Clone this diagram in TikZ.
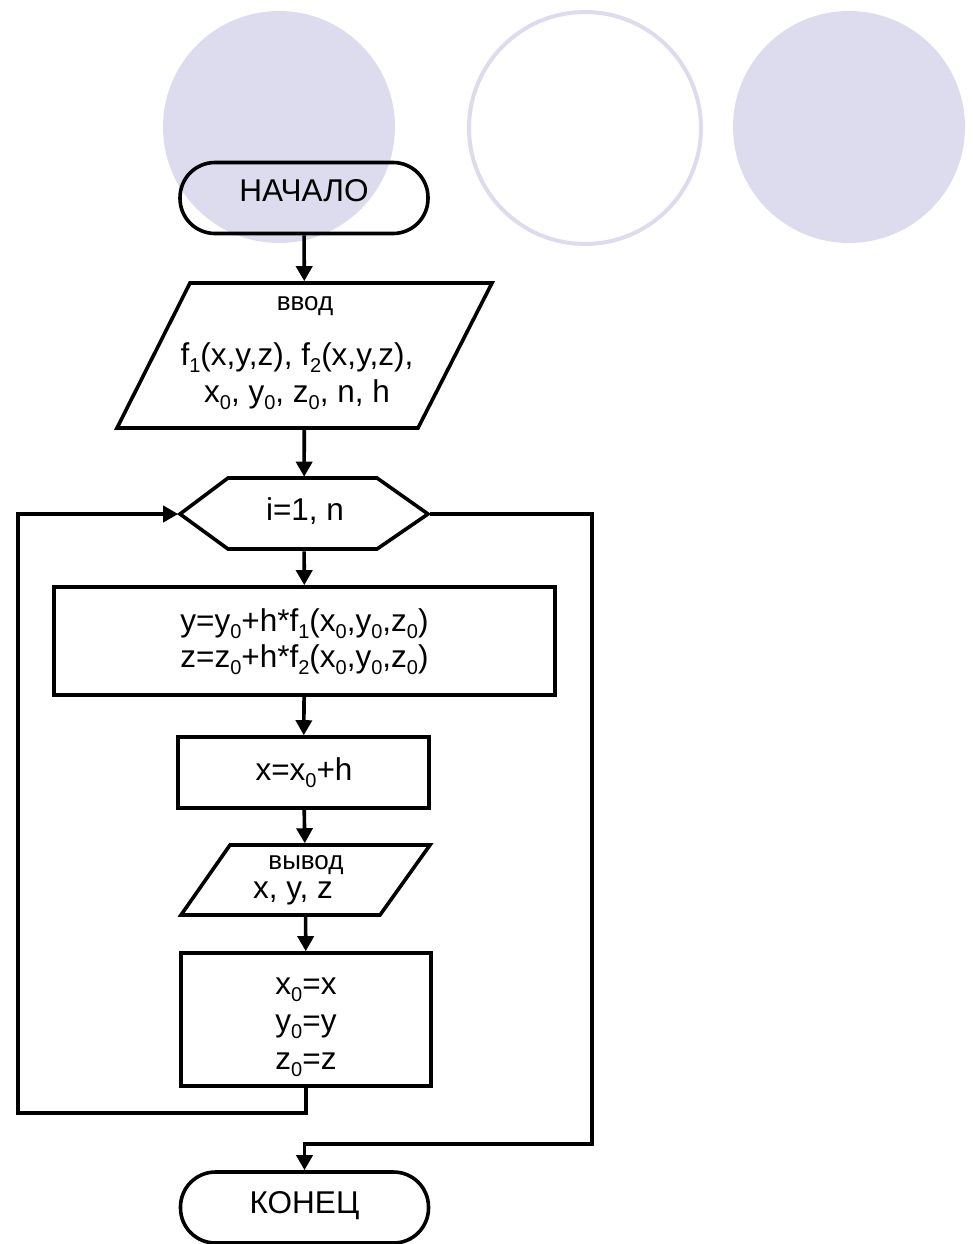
\documentclass[tikz,border=0pt]{standalone}
\usepackage{fontspec}
\setmainfont{Liberation Sans}
\usetikzlibrary{arrows.meta}
\definecolor{lav}{RGB}{220,220,238}
\newcommand\sbs[1]{\raisebox{-7pt}{\fontsize{20}{20}\selectfont #1}}

\begin{document}
\begin{tikzpicture}[x=1pt,y=-1pt,
  line width=3.6pt,
  every node/.style={font=\fontsize{31.5}{37}\selectfont, inner sep=0pt},
  small/.style={font=\fontsize{26}{30}\selectfont},
  flow/.style={-{Triangle[length=15pt,width=16pt]}},
  term/.style={draw, rounded corners=35pt, minimum width=248pt, minimum height=71pt},
  proc/.style={draw, minimum width=#1},
  frame/.style={minimum width=#1},
  blob/.style={fill=lav, draw=none},
  ring/.style={draw=lav, line width=4pt, fill=white}
]
\useasboundingbox (0,0) rectangle (973,1244);

% decorative circles along the top
\fill[blob] (279,127) circle (116);
\draw[ring] (585,128) circle (116);
\fill[blob] (849,127) circle (116);

% terminals
\node[term] (start) at (304,198) {};
\node (startlbl) at (304,191) {НАЧАЛО};
\node[term] (end) at (304.5,1207.5) {};
\node (endlbl) at (304.5,1206) {КОНЕЦ};

% input block
\node[frame=375pt, minimum height=145pt] (in) at (304.5,355.5) {};
\draw (190,283) -- (492,283) -- (418,428) -- (117,428) -- cycle;
\node[small] (inlbl) at (305,306) {ввод};
\node[align=center, font=\fontsize{31.5}{37}\selectfont] (indata) at (297,376)
  {f\sbs{1}(x,y,z), f\sbs{2}(x,y,z),\\ x\sbs{0}, y\sbs{0}, z\sbs{0}, n, h};

% loop header
\node[frame=248pt, minimum height=71pt] (loop) at (304,514) {};
\draw (180,514) -- (228,478) -- (377,478) -- (428,514) -- (377,549) -- (228,549) -- cycle;
\node (looplbl) at (305,511) {i=1, n};

% process blocks
\node[proc=501pt, minimum height=108pt] (p1) at (304.5,641) {};
\node[align=center, font=\fontsize{31.5}{36}\selectfont] (p1txt) at (304.5,642)
  {y=y\sbs{0}+h*f\sbs{1}(x\sbs{0},y\sbs{0},z\sbs{0})\\ z=z\sbs{0}+h*f\sbs{2}(x\sbs{0},y\sbs{0},z\sbs{0})};
\node[proc=251pt, minimum height=71pt] (p2) at (303.5,772.5) {};
\node (p2txt) at (304,773) {x=x\sbs{0}+h};

% output block
\node[frame=249pt, minimum height=70pt] (out) at (305.5,880) {};
\draw (230,845) -- (430,845) -- (380,915) -- (181,915) -- cycle;
\node[small] (outlbl) at (306,865) {вывод};
\node (outdata) at (293,893) {x, y, z};

\node[proc=250pt, minimum height=133pt] (p3) at (306,1019.5) {};
\node[align=center, font=\fontsize{31.5}{37.5}\selectfont] (p3txt) at (306,1027)
  {x\sbs{0}=x\\ y\sbs{0}=y\\ z\sbs{0}=z};

% straight flow
\draw[flow] (start) -- (in);
\draw[flow] (in) -- (loop);
\draw[flow] (loop) -- (p1);
\draw[flow] (p1) -- (p2);
\draw[flow] (p2) -- (out);
\draw[flow] (out) -- (p3);

% loop return and exit
\coordinate (lb) at (18,1113);
\coordinate (lt) at (18,514);
\coordinate (rt) at (592,514);
\coordinate (rb) at (592,1144);
\draw[flow] (p3.south) |- (lb) -- (lt) -- (loop.west);
\draw[flow] (loop.east) -- (rt) -- (rb) -- (end.north |- rb) -- (end.north);
\end{tikzpicture}
\end{document}
